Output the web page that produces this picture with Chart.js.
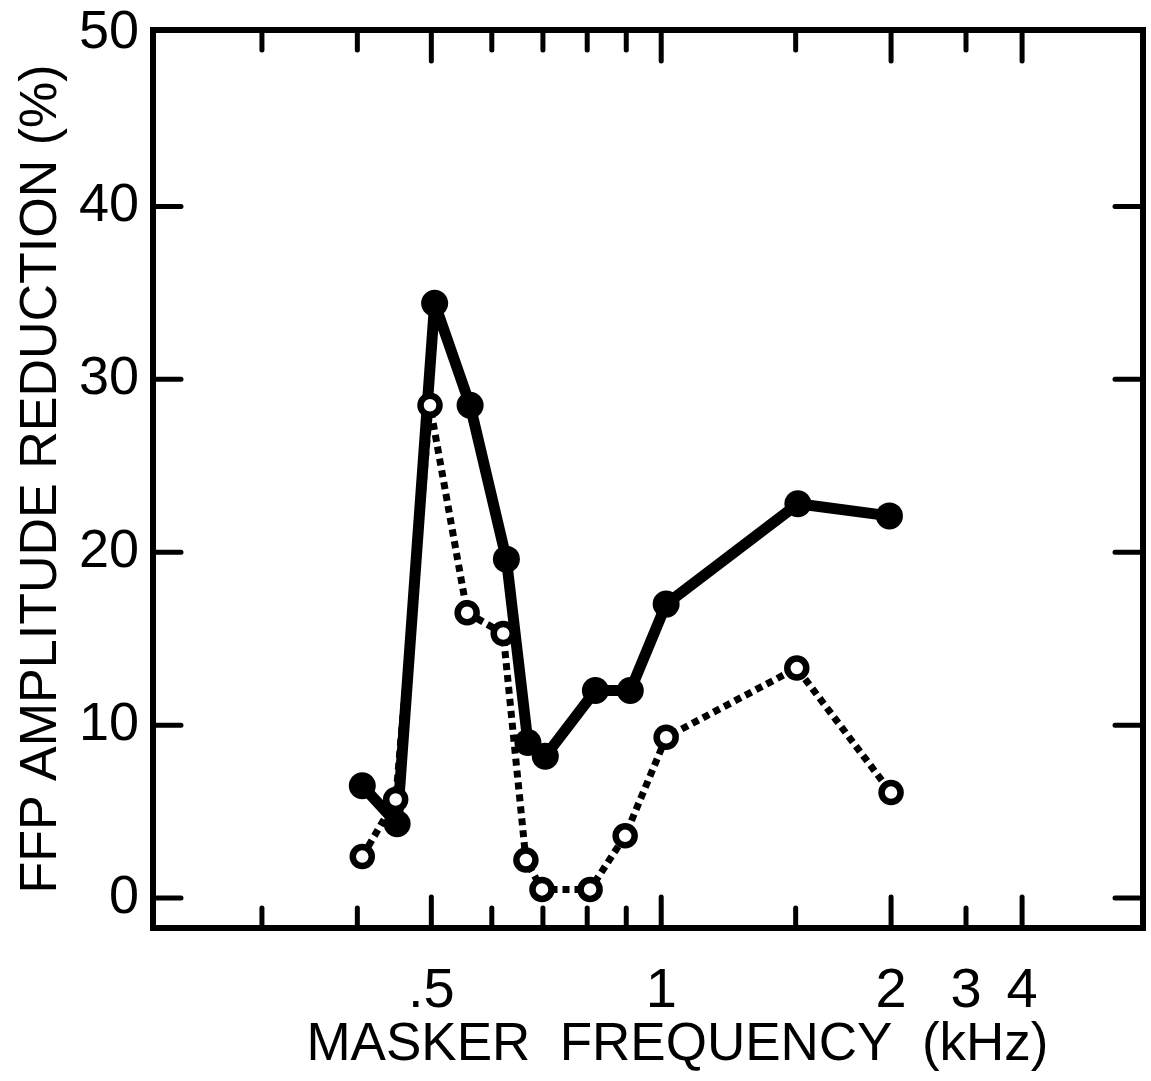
<!DOCTYPE html>
<html><head><meta charset="utf-8">
<script src="https://cdn.jsdelivr.net/npm/chart.js@4.4.1/dist/chart.umd.min.js"></script>
<style>html,body{margin:0;padding:0;background:#fff;}canvas{display:block;}</style>
</head><body>
<canvas id="c" width="1151" height="1081"></canvas>
<script>
// ---- data (frequency in kHz, FFP amplitude reduction in %) ----
const freqFilled = [0.406, 0.451, 0.505, 0.562, 0.627, 0.669, 0.705, 0.820, 0.911, 1.015, 1.51, 1.99];
const redFilled  = [6.5, 4.3, 34.4, 28.5, 19.6, 9.0, 8.2, 12.0, 12.0, 17.0, 22.8, 22.1];
const freqOpen   = [0.406, 0.449, 0.498, 0.557, 0.621, 0.665, 0.698, 0.807, 0.897, 1.015, 1.505, 2.0];
const redOpen    = [2.4, 5.7, 28.5, 16.5, 15.3, 2.2, 0.5, 0.5, 3.6, 9.3, 13.3, 6.1];
const xTickValues = [0.3, 0.4, 0.5, 0.6, 0.7, 0.8, 0.9, 1, 1.5, 2, 3, 4];
const xTickLabels = ['', '', '.5', '', '', '', '', '1', '', '2', '3', '4'];
const xMajorTicks = [0.5, 1, 2, 4];
const yTickValues = [0, 10, 20, 30, 40, 50];
const yTickLabels = ['0', '10', '20', '30', '40', '50'];

// axis shape: logarithmic (octaves re 1 kHz) up to 2 kHz, compressed above
const X_AXIS_BENDS = [[2, 1], [3, 1.326], [4, 1.57], [6.16, 2.096]];

class KHzScale extends Chart.Scale {
  determineDataLimits() { this.min = this.options.min; this.max = this.options.max; }
  buildTicks() { return xTickValues.map(v => ({ value: v })); }
  getLabelForValue(v) { return String(v); }
  _u(v) {
    const b = X_AXIS_BENDS;
    if (v <= b[0][0]) return Math.log2(v);
    for (let i = 1; i < b.length; i++) {
      if (v <= b[i][0] || i === b.length - 1) {
        const f0 = b[i - 1][0], u0 = b[i - 1][1], f1 = b[i][0], u1 = b[i][1];
        return u0 + (v - f0) / (f1 - f0) * (u1 - u0);
      }
    }
  }
  getPixelForValue(v) {
    const a = this._u(this.min), b = this._u(this.max);
    return this.getPixelForDecimal((this._u(v) - a) / (b - a));
  }
  getValueForPixel(p) {
    let lo = this.min, hi = this.max;
    for (let k = 0; k < 50; k++) {
      const m = (lo + hi) / 2;
      if (this.getPixelForValue(m) < p) lo = m; else hi = m;
    }
    return (lo + hi) / 2;
  }
}
KHzScale.id = 'khz';
KHzScale.defaults = {};
Chart.register(KHzScale);

const framePlugin = {
  id: 'frame',
  beforeDatasetsDraw(chart) {
    const { ctx, chartArea: a, scales: { x, y } } = chart;
    ctx.save();
    ctx.strokeStyle = '#000';
    ctx.lineWidth = 6;
    ctx.lineJoin = 'miter';
    ctx.strokeRect(a.left, a.top, a.right - a.left, a.bottom - a.top);
    ctx.lineWidth = 5;
    ctx.lineCap = 'round';
    ctx.beginPath();
    xTickValues.forEach(v => {
      const px = x.getPixelForValue(v);
      const len = xMajorTicks.includes(v) ? 31 : 20;
      ctx.moveTo(px, a.top); ctx.lineTo(px, a.top + len);
      ctx.moveTo(px, a.bottom); ctx.lineTo(px, a.bottom - len);
    });
    yTickValues.forEach(v => {
      if (v >= 50) return;
      const py = y.getPixelForValue(v);
      ctx.moveTo(a.left, py); ctx.lineTo(a.left + 28, py);
      ctx.moveTo(a.right, py); ctx.lineTo(a.right - 28, py);
    });
    ctx.stroke();
    ctx.restore();
  }
};

Chart.defaults.font.family = "'Liberation Sans', Arial, sans-serif";
Chart.defaults.color = '#000';

new Chart(document.getElementById('c'), {
  type: 'line',
  data: {
    datasets: [
      {
        label: 'open',
        data: freqOpen.map((f, i) => ({ x: f, y: redOpen[i] })),
        borderColor: '#000',
        borderWidth: 7,
        borderDash: [7, 5],
        borderCapStyle: 'butt',
        pointRadius: 9.5,
        pointBorderWidth: 6.5,
        pointBackgroundColor: '#fff',
        pointBorderColor: '#000',
        tension: 0,
        fill: false,
        order: 1
      },
      {
        label: 'filled',
        data: freqFilled.map((f, i) => ({ x: f, y: redFilled[i] })),
        borderColor: '#000',
        borderWidth: 11,
        borderCapStyle: 'round',
        borderJoinStyle: 'round',
        pointRadius: 13.5,
        pointBorderWidth: 0,
        pointBackgroundColor: '#000',
        tension: 0,
        fill: false,
        order: 2
      }
    ]
  },
  options: {
    responsive: false,
    animation: false,
    events: [],
    layout: { autoPadding: false, padding: { left: 0, top: 30, right: 8, bottom: 0 } },
    plugins: { legend: { display: false }, tooltip: { enabled: false } },
    scales: {
      x: {
        type: 'khz',
        position: 'bottom',
        min: 0.216,
        max: 6.16,
        grid: { display: false, drawTicks: false },
        border: { display: false },
        ticks: {
          autoSkip: false, maxRotation: 0, minRotation: 0,
          padding: 36,
          font: { size: 56, lineHeight: 1 },
          color: '#000',
          callback: (v) => xTickLabels[xTickValues.indexOf(v)]
        },
        title: {
          display: true,
          text: '    MASKER  FREQUENCY  (kHz)',
          font: { size: 53, lineHeight: 1.2 },
          color: '#000',
          padding: { top: 0, bottom: 4 }
        },
        afterFit: (s) => { s.height = 153; s.paddingLeft = 0; s.paddingRight = 0; }
      },
      y: {
        type: 'linear',
        min: -1.73,
        max: 50.2,
        grid: { display: false, drawTicks: false },
        border: { display: false },
        afterBuildTicks: (s) => { s.ticks = yTickValues.map(v => ({ value: v })); },
        ticks: {
          padding: 14,
          font: { size: 54, lineHeight: 1 },
          color: '#000',
          callback: (v) => yTickLabels[yTickValues.indexOf(v)]
        },
        title: {
          display: true,
          text: 'FFP AMPLITUDE REDUCTION (%)',
          font: { size: 52, lineHeight: 1.2 },
          color: '#000',
          padding: { top: 10, bottom: 0 }
        },
        afterFit: (s) => { s.width = 153; s.paddingTop = 0; s.paddingBottom = 0; }
      }
    }
  },
  plugins: [framePlugin]
});
</script>
</body></html>
